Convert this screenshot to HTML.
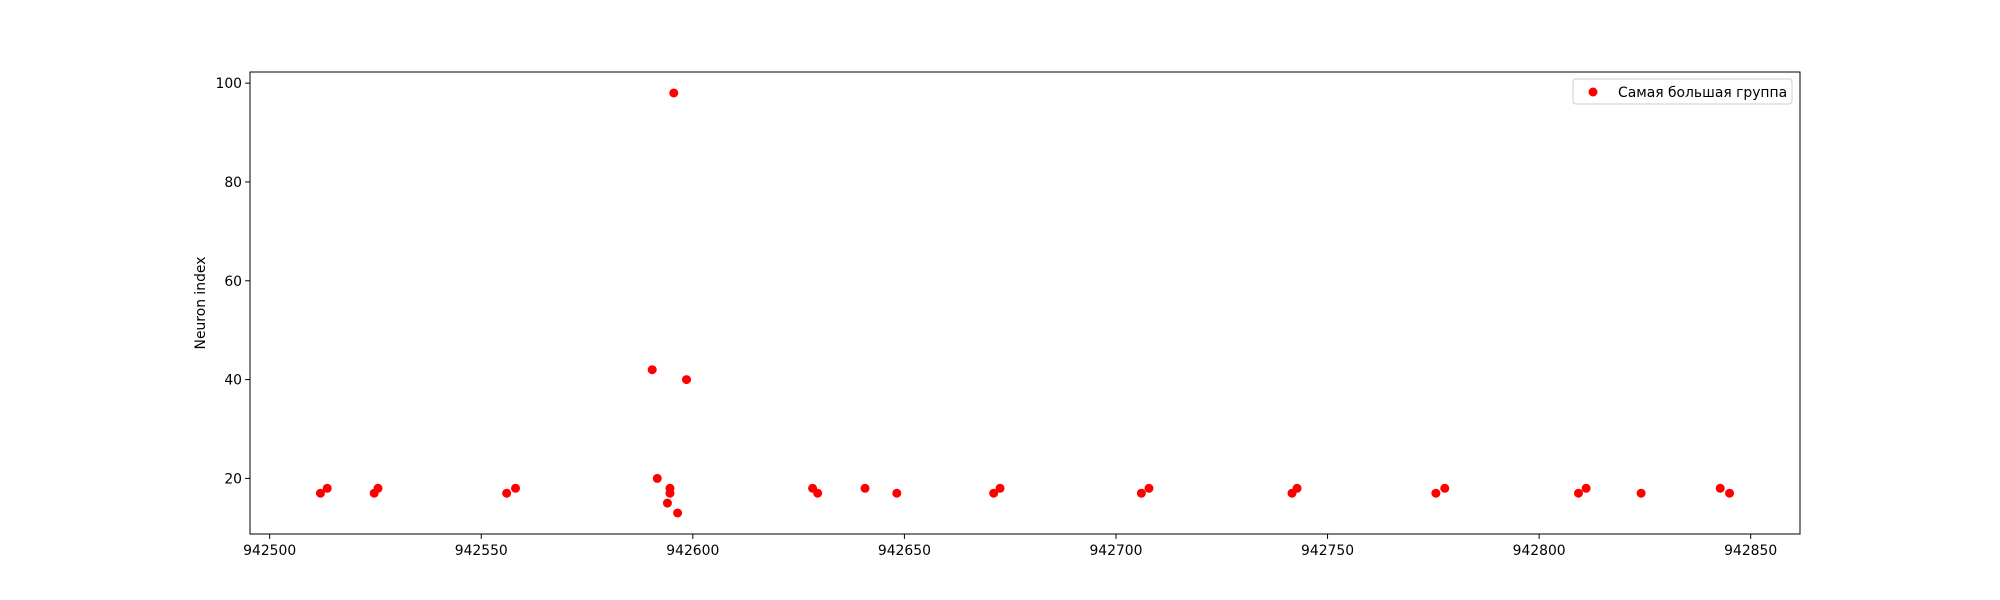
<!DOCTYPE html>
<html><head><meta charset="utf-8"><style>body{margin:0;background:#fff}svg{display:block}text{font-family:"DejaVu Sans","Liberation Sans",sans-serif;font-size:13.9px;fill:#000}</style></head>
<body>
<svg id="chart" width="2000" height="600" xmlns="http://www.w3.org/2000/svg"></svg>
<script>
const xs=[942512,942513.6,942524.7,942525.6,942556,942558.1,942590.4,942591.6,942594,942594.6,942594.6,942595.5,942596.4,942598.5,942628.3,942629.5,942640.7,942648.2,942671.1,942672.6,942706,942707.8,942741.6,942742.8,942775.6,942777.7,942809.3,942811.1,942824.1,942842.8,942845];
const ys=[17,18,17,18,17,18,42,20,15,17,18,98,13,40,18,17,18,17,17,18,17,18,17,18,17,18,17,18,17,18,17];
const xTicks=[942500,942550,942600,942650,942700,942750,942800,942850];
const yTicks=[20,40,60,80,100];
const L=250,R=1800,T=72,B=534;
const xmin=942495.35,xmax=942861.65,ymin=8.75,ymax=102.25;
const X=v=>L+(v-xmin)/(xmax-xmin)*(R-L);
const Y=v=>B-(v-ymin)/(ymax-ymin)*(B-T);
const svg=document.getElementById('chart');const NS='http://www.w3.org/2000/svg';
function el(t,a,p){const e=document.createElementNS(NS,t);for(const k in a)e.setAttribute(k,a[k]);(p||svg).appendChild(e);return e;}
xTicks.forEach(v=>{const x=X(v);
const tk=el('line',{x1:x,x2:x,y1:B,y2:B+4.9,stroke:'#000','stroke-width':1});


const t=el('text',{x:x,y:B+21,'text-anchor':'middle'});t.textContent=v;

});
yTicks.forEach(v=>{const y=Y(v);
const tk=el('line',{x1:L-4.9,x2:L,y1:y,y2:y,stroke:'#000','stroke-width':1});


const t=el('text',{x:L-8,y:y+5,'text-anchor':'end'});t.textContent=v;

});
xs.forEach((v,i)=>{const c=el('circle',{cx:X(v),cy:Y(ys[i]),r:4.5,fill:'#ff0000'});

});
const fr=el('rect',{x:L,y:T,width:R-L,height:B-T,fill:'none',stroke:'#000','stroke-width':1});


const yl=el('text',{x:0,y:0,'text-anchor':'middle',transform:'translate(205,303) rotate(-90)'});yl.textContent='Neuron index';


const lg=el('g',{});


el('rect',{x:1573,y:79,width:219,height:25,rx:3,fill:'#fff',stroke:'#ccc','stroke-width':1},lg);
const lm=el('circle',{cx:1593,cy:92,r:4.5,fill:'#ff0000'},lg);


const lt=el('text',{x:1618,y:97},lg);lt.textContent='Самая большая группа';


</script>
</body></html>
